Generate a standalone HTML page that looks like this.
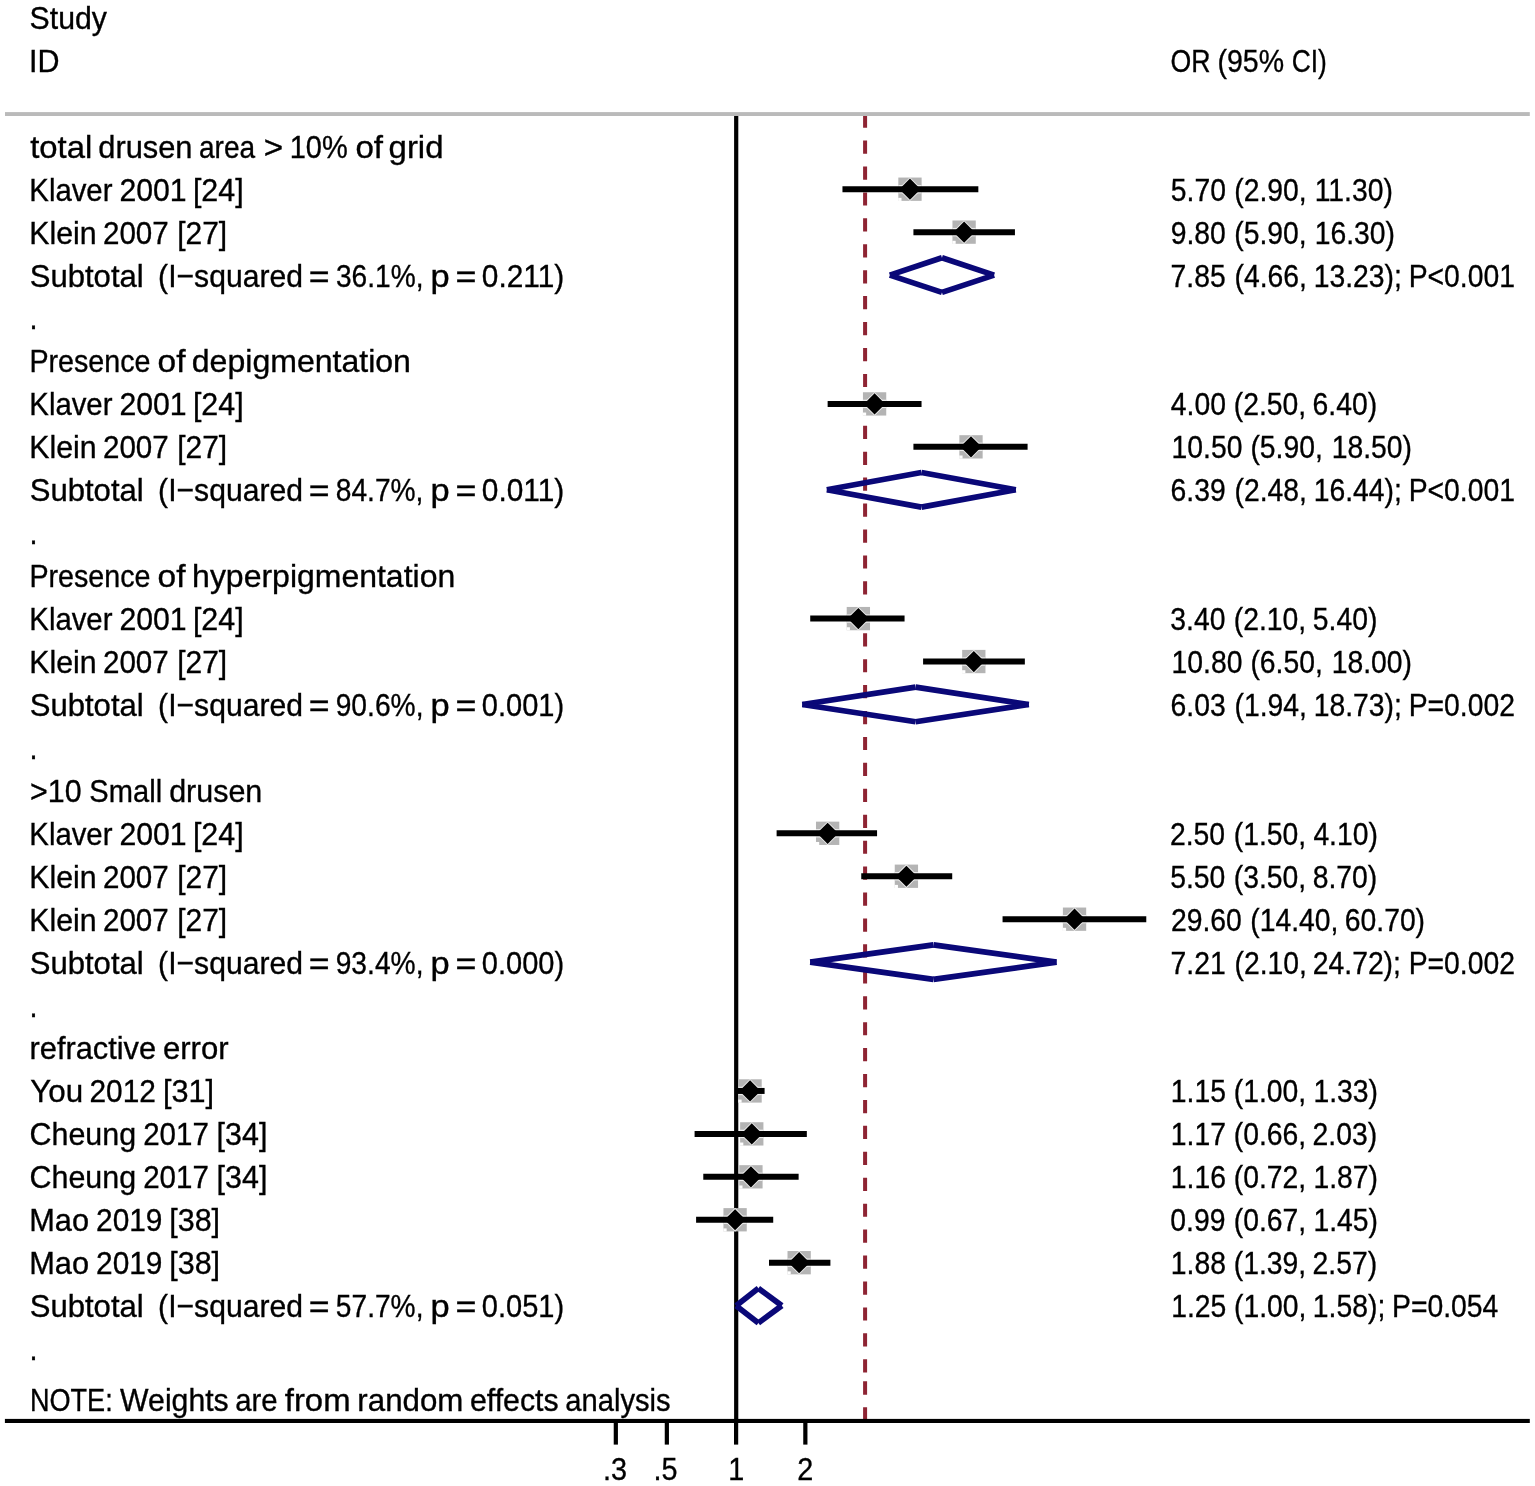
<!DOCTYPE html>
<html><head><meta charset="utf-8"><title>Forest plot</title>
<style>html,body{margin:0;padding:0;background:#fff;width:1535px;height:1486px;overflow:hidden}svg{display:block}text{white-space:pre;stroke:#000;stroke-width:0.35px;font-family:"Liberation Sans",Arial,sans-serif;font-size:32.0px;fill:#000}</style></head><body>
<svg width="1535" height="1486" viewBox="0 0 1535 1486">
<rect width="1535" height="1486" fill="#fff"/>
<line x1="865.1" y1="114.6" x2="865.1" y2="1374" stroke="#8e2433" stroke-width="4" stroke-dasharray="13.2 12.73"/>
<line x1="865.1" y1="1381.3" x2="865.1" y2="1420" stroke="#8e2433" stroke-width="4" stroke-dasharray="13.4 12.6"/>
<line x1="736.2" y1="113.7" x2="736.2" y2="1421" stroke="#000" stroke-width="4.2"/>
<rect x="5" y="112.1" width="1524.8" height="3.9" fill="#bababa"/>
<rect x="4.9" y="1418.9" width="1524.9" height="4.1" fill="#000"/>
<rect x="613.72" y="1420" width="4.2" height="24.6" fill="#000"/>
<rect x="664.75" y="1420" width="4.2" height="24.6" fill="#000"/>
<rect x="734.00" y="1420" width="4.2" height="24.6" fill="#000"/>
<rect x="803.25" y="1420" width="4.2" height="24.6" fill="#000"/>
<rect x="898.32" y="177.55" width="23.30" height="23.30" fill="#b4b4b4"/>
<polygon points="898.07,189.20 909.97,177.30 921.87,189.20 909.97,201.10" fill="#ededed"/>
<rect x="898.32" y="185.00" width="23.30" height="8.40" fill="#ededed"/>
<line x1="842.46" y1="189.20" x2="978.34" y2="189.20" stroke="#000" stroke-width="6"/>
<polygon points="899.37,189.20 909.97,178.60 920.57,189.20 909.97,199.80" fill="#000"/>
<rect x="898.22" y="197.85" width="3.3" height="3.1" fill="#fff"/>
<rect x="952.46" y="220.49" width="23.30" height="23.30" fill="#b4b4b4"/>
<polygon points="952.21,232.14 964.11,220.24 976.01,232.14 964.11,244.04" fill="#ededed"/>
<rect x="952.46" y="227.94" width="23.30" height="8.40" fill="#ededed"/>
<line x1="913.42" y1="232.14" x2="1014.94" y2="232.14" stroke="#000" stroke-width="6"/>
<polygon points="953.51,232.14 964.11,221.54 974.71,232.14 964.11,242.74" fill="#000"/>
<rect x="952.36" y="240.79" width="3.3" height="3.1" fill="#fff"/>
<line x1="889.85" y1="275.08" x2="941.95" y2="257.78" stroke="#0a0878" stroke-width="5.7"/>
<line x1="941.95" y1="257.78" x2="994.09" y2="275.08" stroke="#0a0878" stroke-width="5.7"/>
<line x1="994.09" y1="275.08" x2="941.95" y2="292.38" stroke="#0a0878" stroke-width="5.7"/>
<line x1="941.95" y1="292.38" x2="889.85" y2="275.08" stroke="#0a0878" stroke-width="5.7"/>
<rect x="862.94" y="392.25" width="23.30" height="23.30" fill="#b4b4b4"/>
<polygon points="862.69,403.90 874.59,392.00 886.49,403.90 874.59,415.80" fill="#ededed"/>
<rect x="862.94" y="399.70" width="23.30" height="8.40" fill="#ededed"/>
<line x1="827.64" y1="403.90" x2="921.54" y2="403.90" stroke="#000" stroke-width="6"/>
<polygon points="863.99,403.90 874.59,393.30 885.19,403.90 874.59,414.50" fill="#000"/>
<rect x="862.84" y="412.55" width="3.3" height="3.1" fill="#fff"/>
<rect x="959.35" y="435.19" width="23.30" height="23.30" fill="#b4b4b4"/>
<polygon points="959.10,446.84 971.00,434.94 982.90,446.84 971.00,458.74" fill="#ededed"/>
<rect x="959.35" y="442.64" width="23.30" height="8.40" fill="#ededed"/>
<line x1="913.42" y1="446.84" x2="1027.59" y2="446.84" stroke="#000" stroke-width="6"/>
<polygon points="960.40,446.84 971.00,436.24 981.60,446.84 971.00,457.44" fill="#000"/>
<rect x="959.25" y="455.49" width="3.3" height="3.1" fill="#fff"/>
<line x1="826.84" y1="489.78" x2="921.39" y2="472.48" stroke="#0a0878" stroke-width="5.7"/>
<line x1="921.39" y1="472.48" x2="1015.79" y2="489.78" stroke="#0a0878" stroke-width="5.7"/>
<line x1="1015.79" y1="489.78" x2="921.39" y2="507.08" stroke="#0a0878" stroke-width="5.7"/>
<line x1="921.39" y1="507.08" x2="826.84" y2="489.78" stroke="#0a0878" stroke-width="5.7"/>
<rect x="846.71" y="606.95" width="23.30" height="23.30" fill="#b4b4b4"/>
<polygon points="846.46,618.60 858.36,606.70 870.26,618.60 858.36,630.50" fill="#ededed"/>
<rect x="846.71" y="614.40" width="23.30" height="8.40" fill="#ededed"/>
<line x1="810.22" y1="618.60" x2="904.57" y2="618.60" stroke="#000" stroke-width="6"/>
<polygon points="847.76,618.60 858.36,608.00 868.96,618.60 858.36,629.20" fill="#000"/>
<rect x="846.61" y="627.25" width="3.3" height="3.1" fill="#fff"/>
<rect x="962.17" y="649.89" width="23.30" height="23.30" fill="#b4b4b4"/>
<polygon points="961.92,661.54 973.82,649.64 985.72,661.54 973.82,673.44" fill="#ededed"/>
<rect x="962.17" y="657.34" width="23.30" height="8.40" fill="#ededed"/>
<line x1="923.09" y1="661.54" x2="1024.85" y2="661.54" stroke="#000" stroke-width="6"/>
<polygon points="963.22,661.54 973.82,650.94 984.42,661.54 973.82,672.14" fill="#000"/>
<rect x="962.07" y="670.19" width="3.3" height="3.1" fill="#fff"/>
<line x1="802.30" y1="704.48" x2="915.60" y2="687.18" stroke="#0a0878" stroke-width="5.7"/>
<line x1="915.60" y1="687.18" x2="1028.82" y2="704.48" stroke="#0a0878" stroke-width="5.7"/>
<line x1="1028.82" y1="704.48" x2="915.60" y2="721.78" stroke="#0a0878" stroke-width="5.7"/>
<line x1="915.60" y1="721.78" x2="802.30" y2="704.48" stroke="#0a0878" stroke-width="5.7"/>
<rect x="815.99" y="821.65" width="23.30" height="23.30" fill="#b4b4b4"/>
<polygon points="815.74,833.30 827.64,821.40 839.54,833.30 827.64,845.20" fill="#ededed"/>
<rect x="815.99" y="829.10" width="23.30" height="8.40" fill="#ededed"/>
<line x1="776.61" y1="833.30" x2="877.06" y2="833.30" stroke="#000" stroke-width="6"/>
<polygon points="817.04,833.30 827.64,822.70 838.24,833.30 827.64,843.90" fill="#000"/>
<rect x="815.89" y="841.95" width="3.3" height="3.1" fill="#fff"/>
<rect x="894.75" y="864.59" width="23.30" height="23.30" fill="#b4b4b4"/>
<polygon points="894.50,876.24 906.40,864.34 918.30,876.24 906.40,888.14" fill="#ededed"/>
<rect x="894.75" y="872.04" width="23.30" height="8.40" fill="#ededed"/>
<line x1="861.25" y1="876.24" x2="952.22" y2="876.24" stroke="#000" stroke-width="6"/>
<polygon points="895.80,876.24 906.40,865.64 917.00,876.24 906.40,886.84" fill="#000"/>
<rect x="894.65" y="884.89" width="3.3" height="3.1" fill="#fff"/>
<rect x="1062.89" y="907.53" width="23.30" height="23.30" fill="#b4b4b4"/>
<polygon points="1062.64,919.18 1074.54,907.28 1086.44,919.18 1074.54,931.08" fill="#ededed"/>
<rect x="1062.89" y="914.98" width="23.30" height="8.40" fill="#ededed"/>
<line x1="1002.56" y1="919.18" x2="1146.28" y2="919.18" stroke="#000" stroke-width="6"/>
<polygon points="1063.94,919.18 1074.54,908.58 1085.14,919.18 1074.54,929.78" fill="#000"/>
<rect x="1062.79" y="927.83" width="3.3" height="3.1" fill="#fff"/>
<line x1="810.22" y1="962.12" x2="933.45" y2="944.82" stroke="#0a0878" stroke-width="5.7"/>
<line x1="933.45" y1="944.82" x2="1056.54" y2="962.12" stroke="#0a0878" stroke-width="5.7"/>
<line x1="1056.54" y1="962.12" x2="933.45" y2="979.42" stroke="#0a0878" stroke-width="5.7"/>
<line x1="933.45" y1="979.42" x2="810.22" y2="962.12" stroke="#0a0878" stroke-width="5.7"/>
<rect x="738.41" y="1079.29" width="23.30" height="23.30" fill="#b4b4b4"/>
<polygon points="738.16,1090.94 750.06,1079.04 761.96,1090.94 750.06,1102.84" fill="#ededed"/>
<rect x="738.41" y="1086.74" width="23.30" height="8.40" fill="#ededed"/>
<line x1="736.10" y1="1090.94" x2="764.59" y2="1090.94" stroke="#000" stroke-width="6"/>
<polygon points="739.46,1090.94 750.06,1080.34 760.66,1090.94 750.06,1101.54" fill="#000"/>
<rect x="738.31" y="1099.59" width="3.3" height="3.1" fill="#fff"/>
<rect x="740.13" y="1122.23" width="23.30" height="23.30" fill="#b4b4b4"/>
<polygon points="739.88,1133.88 751.78,1121.98 763.68,1133.88 751.78,1145.78" fill="#ededed"/>
<rect x="740.13" y="1129.68" width="23.30" height="8.40" fill="#ededed"/>
<line x1="694.59" y1="1133.88" x2="806.83" y2="1133.88" stroke="#000" stroke-width="6"/>
<polygon points="741.18,1133.88 751.78,1123.28 762.38,1133.88 751.78,1144.48" fill="#000"/>
<rect x="740.03" y="1142.53" width="3.3" height="3.1" fill="#fff"/>
<rect x="739.28" y="1165.17" width="23.30" height="23.30" fill="#b4b4b4"/>
<polygon points="739.03,1176.82 750.93,1164.92 762.83,1176.82 750.93,1188.72" fill="#ededed"/>
<rect x="739.28" y="1172.62" width="23.30" height="8.40" fill="#ededed"/>
<line x1="703.28" y1="1176.82" x2="798.63" y2="1176.82" stroke="#000" stroke-width="6"/>
<polygon points="740.33,1176.82 750.93,1166.22 761.53,1176.82 750.93,1187.42" fill="#000"/>
<rect x="739.18" y="1185.47" width="3.3" height="3.1" fill="#fff"/>
<rect x="723.45" y="1208.11" width="23.30" height="23.30" fill="#b4b4b4"/>
<polygon points="723.20,1219.76 735.10,1207.86 747.00,1219.76 735.10,1231.66" fill="#ededed"/>
<rect x="723.45" y="1215.56" width="23.30" height="8.40" fill="#ededed"/>
<line x1="696.09" y1="1219.76" x2="773.22" y2="1219.76" stroke="#000" stroke-width="6"/>
<polygon points="724.50,1219.76 735.10,1209.16 745.70,1219.76 735.10,1230.36" fill="#000"/>
<rect x="723.35" y="1228.41" width="3.3" height="3.1" fill="#fff"/>
<rect x="787.51" y="1251.05" width="23.30" height="23.30" fill="#b4b4b4"/>
<polygon points="787.26,1262.70 799.16,1250.80 811.06,1262.70 799.16,1274.60" fill="#ededed"/>
<rect x="787.51" y="1258.50" width="23.30" height="8.40" fill="#ededed"/>
<line x1="769.00" y1="1262.70" x2="830.40" y2="1262.70" stroke="#000" stroke-width="6"/>
<polygon points="788.56,1262.70 799.16,1252.10 809.76,1262.70 799.16,1273.30" fill="#000"/>
<rect x="787.41" y="1271.35" width="3.3" height="3.1" fill="#fff"/>
<line x1="736.10" y1="1305.64" x2="758.39" y2="1288.34" stroke="#0a0878" stroke-width="5.7"/>
<line x1="758.39" y1="1288.34" x2="781.80" y2="1305.64" stroke="#0a0878" stroke-width="5.7"/>
<line x1="781.80" y1="1305.64" x2="758.39" y2="1322.94" stroke="#0a0878" stroke-width="5.7"/>
<line x1="758.39" y1="1322.94" x2="736.10" y2="1305.64" stroke="#0a0878" stroke-width="5.7"/>
<text transform="translate(29.58 29.30) scale(0.9451 1)">Study</text>
<text transform="translate(28.94 71.90) scale(0.9529 1)">ID</text>
<text transform="translate(1170.45 71.90) scale(0.8333 1)">OR</text>
<text transform="translate(1217.42 71.90) scale(0.8925 1)">(95%</text>
<text transform="translate(1291.78 71.90) scale(0.8235 1)">CI)</text>
<text transform="translate(30.19 157.71) scale(1.0276 1)">total</text>
<text transform="translate(98.25 157.71) scale(0.9640 1)">drusen</text>
<text transform="translate(198.96 157.71) scale(0.8774 1)">area</text>
<text transform="translate(263.74 157.71) scale(1.0387 1)">&gt;</text>
<text transform="translate(289.69 157.71) scale(0.9064 1)">10%</text>
<text transform="translate(355.45 157.71) scale(1.0354 1)">of</text>
<text transform="translate(388.56 157.71) scale(1.0300 1)">grid</text>
<text transform="translate(29.32 200.65) scale(0.9166 1)">Klaver</text>
<text transform="translate(119.39 200.65) scale(0.9443 1)">2001</text>
<text transform="translate(192.91 200.65) scale(0.9508 1)">[24]</text>
<text transform="translate(1170.85 200.65) scale(0.8850 1)">5.70</text>
<text transform="translate(1234.33 200.65) scale(0.8850 1)">(2.90,</text>
<text transform="translate(1314.66 200.65) scale(0.8850 1)">11.30)</text>
<text transform="translate(29.24 243.59) scale(0.9474 1)">Klein</text>
<text transform="translate(102.92 243.59) scale(0.9250 1)">2007</text>
<text transform="translate(177.15 243.59) scale(0.9365 1)">[27]</text>
<text transform="translate(1170.67 243.59) scale(0.8850 1)">9.80</text>
<text transform="translate(1234.33 243.59) scale(0.8850 1)">(5.90,</text>
<text transform="translate(1314.66 243.59) scale(0.8850 1)">16.30)</text>
<text transform="translate(29.74 286.53) scale(0.9710 1)">Subtotal</text>
<text transform="translate(158.12 286.53) scale(0.9413 1)">(I−squared</text>
<text transform="translate(308.71 286.53) scale(1.1161 1)">=</text>
<text transform="translate(335.95 286.53) scale(0.8785 1)">36.1%,</text>
<text transform="translate(430.44 286.53) scale(1.0764 1)">p</text>
<text transform="translate(455.50 286.53) scale(1.1226 1)">=</text>
<text transform="translate(481.78 286.53) scale(0.9331 1)">0.211)</text>
<text transform="translate(1170.58 286.53) scale(0.8850 1)">7.85</text>
<text transform="translate(1234.53 286.53) scale(0.8850 1)">(4.66,</text>
<text transform="translate(1313.66 286.53) scale(0.8850 1)">13.23);</text>
<text transform="translate(1408.70 286.53) scale(0.8850 1)">P&lt;0.001</text>
<text transform="translate(29.47 372.41) scale(0.8956 1)">Presence</text>
<text transform="translate(157.54 372.41) scale(1.0472 1)">of</text>
<text transform="translate(191.80 372.41) scale(1.0019 1)">depigmentation</text>
<text transform="translate(29.32 415.35) scale(0.9166 1)">Klaver</text>
<text transform="translate(119.39 415.35) scale(0.9443 1)">2001</text>
<text transform="translate(192.91 415.35) scale(0.9508 1)">[24]</text>
<text transform="translate(1170.78 415.35) scale(0.8850 1)">4.00</text>
<text transform="translate(1233.73 415.35) scale(0.8850 1)">(2.50,</text>
<text transform="translate(1312.58 415.35) scale(0.8850 1)">6.40)</text>
<text transform="translate(29.24 458.29) scale(0.9474 1)">Klein</text>
<text transform="translate(102.92 458.29) scale(0.9250 1)">2007</text>
<text transform="translate(177.15 458.29) scale(0.9365 1)">[27]</text>
<text transform="translate(1171.56 458.29) scale(0.8850 1)">10.50</text>
<text transform="translate(1250.43 458.29) scale(0.8850 1)">(5.90,</text>
<text transform="translate(1331.66 458.29) scale(0.8850 1)">18.50)</text>
<text transform="translate(29.74 501.23) scale(0.9710 1)">Subtotal</text>
<text transform="translate(158.12 501.23) scale(0.9413 1)">(I−squared</text>
<text transform="translate(308.71 501.23) scale(1.1161 1)">=</text>
<text transform="translate(335.77 501.23) scale(0.8804 1)">84.7%,</text>
<text transform="translate(430.44 501.23) scale(1.0764 1)">p</text>
<text transform="translate(455.50 501.23) scale(1.1226 1)">=</text>
<text transform="translate(481.78 501.23) scale(0.9331 1)">0.011)</text>
<text transform="translate(1170.58 501.23) scale(0.8850 1)">6.39</text>
<text transform="translate(1234.53 501.23) scale(0.8850 1)">(2.48,</text>
<text transform="translate(1313.66 501.23) scale(0.8850 1)">16.44);</text>
<text transform="translate(1408.70 501.23) scale(0.8850 1)">P&lt;0.001</text>
<text transform="translate(29.47 587.11) scale(0.8956 1)">Presence</text>
<text transform="translate(157.54 587.11) scale(1.0472 1)">of</text>
<text transform="translate(192.10 587.11) scale(0.9996 1)">hyperpigmentation</text>
<text transform="translate(29.32 630.05) scale(0.9166 1)">Klaver</text>
<text transform="translate(119.39 630.05) scale(0.9443 1)">2001</text>
<text transform="translate(192.91 630.05) scale(0.9508 1)">[24]</text>
<text transform="translate(1170.34 630.05) scale(0.8850 1)">3.40</text>
<text transform="translate(1233.73 630.05) scale(0.8850 1)">(2.10,</text>
<text transform="translate(1312.85 630.05) scale(0.8850 1)">5.40)</text>
<text transform="translate(29.24 672.99) scale(0.9474 1)">Klein</text>
<text transform="translate(102.92 672.99) scale(0.9250 1)">2007</text>
<text transform="translate(177.15 672.99) scale(0.9365 1)">[27]</text>
<text transform="translate(1171.56 672.99) scale(0.8850 1)">10.80</text>
<text transform="translate(1250.43 672.99) scale(0.8850 1)">(6.50,</text>
<text transform="translate(1331.66 672.99) scale(0.8850 1)">18.00)</text>
<text transform="translate(29.74 715.93) scale(0.9710 1)">Subtotal</text>
<text transform="translate(158.12 715.93) scale(0.9413 1)">(I−squared</text>
<text transform="translate(308.71 715.93) scale(1.1161 1)">=</text>
<text transform="translate(335.68 715.93) scale(0.8813 1)">90.6%,</text>
<text transform="translate(430.44 715.93) scale(1.0764 1)">p</text>
<text transform="translate(455.50 715.93) scale(1.1226 1)">=</text>
<text transform="translate(481.81 715.93) scale(0.9075 1)">0.001)</text>
<text transform="translate(1170.58 715.93) scale(0.8850 1)">6.03</text>
<text transform="translate(1234.53 715.93) scale(0.8850 1)">(1.94,</text>
<text transform="translate(1313.66 715.93) scale(0.8850 1)">18.73);</text>
<text transform="translate(1408.70 715.93) scale(0.8850 1)">P=0.002</text>
<text transform="translate(30.08 801.81) scale(0.9495 1)">&gt;10</text>
<text transform="translate(89.34 801.81) scale(0.9097 1)">Small</text>
<text transform="translate(169.16 801.81) scale(0.9523 1)">drusen</text>
<text transform="translate(29.32 844.75) scale(0.9166 1)">Klaver</text>
<text transform="translate(119.39 844.75) scale(0.9443 1)">2001</text>
<text transform="translate(192.91 844.75) scale(0.9508 1)">[24]</text>
<text transform="translate(1169.98 844.75) scale(0.8850 1)">2.50</text>
<text transform="translate(1233.73 844.75) scale(0.8850 1)">(1.50,</text>
<text transform="translate(1313.38 844.75) scale(0.8850 1)">4.10)</text>
<text transform="translate(29.24 887.69) scale(0.9474 1)">Klein</text>
<text transform="translate(102.92 887.69) scale(0.9250 1)">2007</text>
<text transform="translate(177.15 887.69) scale(0.9365 1)">[27]</text>
<text transform="translate(1170.25 887.69) scale(0.8850 1)">5.50</text>
<text transform="translate(1233.73 887.69) scale(0.8850 1)">(3.50,</text>
<text transform="translate(1312.76 887.69) scale(0.8850 1)">8.70)</text>
<text transform="translate(29.24 930.63) scale(0.9474 1)">Klein</text>
<text transform="translate(102.92 930.63) scale(0.9250 1)">2007</text>
<text transform="translate(177.15 930.63) scale(0.9365 1)">[27]</text>
<text transform="translate(1170.98 930.63) scale(0.8850 1)">29.60</text>
<text transform="translate(1250.33 930.63) scale(0.8850 1)">(14.40,</text>
<text transform="translate(1344.78 930.63) scale(0.8850 1)">60.70)</text>
<text transform="translate(29.74 973.57) scale(0.9710 1)">Subtotal</text>
<text transform="translate(158.12 973.57) scale(0.9413 1)">(I−squared</text>
<text transform="translate(308.71 973.57) scale(1.1161 1)">=</text>
<text transform="translate(335.68 973.57) scale(0.8813 1)">93.4%,</text>
<text transform="translate(430.44 973.57) scale(1.0764 1)">p</text>
<text transform="translate(455.50 973.57) scale(1.1226 1)">=</text>
<text transform="translate(481.81 973.57) scale(0.9075 1)">0.000)</text>
<text transform="translate(1170.58 973.57) scale(0.8850 1)">7.21</text>
<text transform="translate(1234.53 973.57) scale(0.8850 1)">(2.10,</text>
<text transform="translate(1312.78 973.57) scale(0.8850 1)">24.72);</text>
<text transform="translate(1408.70 973.57) scale(0.8850 1)">P=0.002</text>
<text transform="translate(29.58 1059.45) scale(0.9617 1)">refractive</text>
<text transform="translate(162.94 1059.45) scale(0.9711 1)">error</text>
<text transform="translate(30.31 1102.39) scale(0.9805 1)">You</text>
<text transform="translate(89.51 1102.39) scale(0.9338 1)">2012</text>
<text transform="translate(162.90 1102.39) scale(0.9570 1)">[31]</text>
<text transform="translate(1170.86 1102.39) scale(0.8850 1)">1.15</text>
<text transform="translate(1233.73 1102.39) scale(0.8850 1)">(1.00,</text>
<text transform="translate(1313.46 1102.39) scale(0.8850 1)">1.33)</text>
<text transform="translate(29.48 1145.33) scale(0.9511 1)">Cheung</text>
<text transform="translate(143.22 1145.33) scale(0.9221 1)">2017</text>
<text transform="translate(216.61 1145.33) scale(0.9508 1)">[34]</text>
<text transform="translate(1170.86 1145.33) scale(0.8850 1)">1.17</text>
<text transform="translate(1233.73 1145.33) scale(0.8850 1)">(0.66,</text>
<text transform="translate(1312.58 1145.33) scale(0.8850 1)">2.03)</text>
<text transform="translate(29.48 1188.27) scale(0.9511 1)">Cheung</text>
<text transform="translate(143.22 1188.27) scale(0.9221 1)">2017</text>
<text transform="translate(216.61 1188.27) scale(0.9508 1)">[34]</text>
<text transform="translate(1170.86 1188.27) scale(0.8850 1)">1.16</text>
<text transform="translate(1233.73 1188.27) scale(0.8850 1)">(0.72,</text>
<text transform="translate(1313.46 1188.27) scale(0.8850 1)">1.87)</text>
<text transform="translate(29.20 1231.21) scale(0.9623 1)">Mao</text>
<text transform="translate(96.01 1231.21) scale(0.9339 1)">2019</text>
<text transform="translate(169.21 1231.21) scale(0.9529 1)">[38]</text>
<text transform="translate(1170.34 1231.21) scale(0.8850 1)">0.99</text>
<text transform="translate(1233.73 1231.21) scale(0.8850 1)">(0.67,</text>
<text transform="translate(1313.46 1231.21) scale(0.8850 1)">1.45)</text>
<text transform="translate(29.20 1274.15) scale(0.9623 1)">Mao</text>
<text transform="translate(96.01 1274.15) scale(0.9339 1)">2019</text>
<text transform="translate(169.21 1274.15) scale(0.9529 1)">[38]</text>
<text transform="translate(1170.86 1274.15) scale(0.8850 1)">1.88</text>
<text transform="translate(1233.73 1274.15) scale(0.8850 1)">(1.39,</text>
<text transform="translate(1312.58 1274.15) scale(0.8850 1)">2.57)</text>
<text transform="translate(29.74 1317.09) scale(0.9710 1)">Subtotal</text>
<text transform="translate(158.12 1317.09) scale(0.9413 1)">(I−squared</text>
<text transform="translate(308.71 1317.09) scale(1.1161 1)">=</text>
<text transform="translate(335.86 1317.09) scale(0.8795 1)">57.7%,</text>
<text transform="translate(430.44 1317.09) scale(1.0764 1)">p</text>
<text transform="translate(455.50 1317.09) scale(1.1226 1)">=</text>
<text transform="translate(481.81 1317.09) scale(0.9075 1)">0.051)</text>
<text transform="translate(1171.26 1317.09) scale(0.8850 1)">1.25</text>
<text transform="translate(1234.03 1317.09) scale(0.8850 1)">(1.00,</text>
<text transform="translate(1312.86 1317.09) scale(0.8850 1)">1.58);</text>
<text transform="translate(1392.00 1317.09) scale(0.8850 1)">P=0.054</text>
<text transform="translate(29.60 329.47) scale(0.9000 1)">.</text>
<text transform="translate(29.60 544.17) scale(0.9000 1)">.</text>
<text transform="translate(29.60 758.87) scale(0.9000 1)">.</text>
<text transform="translate(29.60 1016.51) scale(0.9000 1)">.</text>
<text transform="translate(29.60 1360.03) scale(0.9000 1)">.</text>
<text transform="translate(29.90 1410.60) scale(0.8472 1)">NOTE:</text>
<text transform="translate(120.11 1410.60) scale(0.9446 1)">Weights</text>
<text transform="translate(235.31 1410.60) scale(0.9151 1)">are</text>
<text transform="translate(284.79 1410.60) scale(1.0276 1)">from</text>
<text transform="translate(357.35 1410.60) scale(0.9770 1)">random</text>
<text transform="translate(469.97 1410.60) scale(0.9463 1)">effects</text>
<text transform="translate(565.32 1410.60) scale(0.9108 1)">analysis</text>
<text transform="translate(603.11 1479.70) scale(0.9000 1)">.3</text>
<text transform="translate(653.61 1479.70) scale(0.9000 1)">.5</text>
<text transform="translate(728.15 1479.70) scale(0.9000 1)">1</text>
<text transform="translate(797.34 1479.70) scale(0.9000 1)">2</text>
</svg>
</body></html>
